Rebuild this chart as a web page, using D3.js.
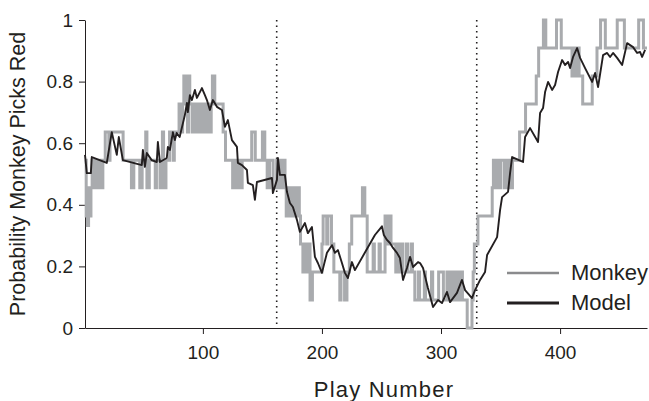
<!DOCTYPE html>
<html>
<head>
<meta charset="utf-8">
<script src="https://cdn.jsdelivr.net/npm/d3@7"></script>
<style>
  body { margin: 0; background: #fff; }
  svg { display: block; font-family: "Liberation Sans", Arial, Helvetica, sans-serif; }
  .axis path, .axis line { stroke: #231f20; stroke-width: 1; }
  .axis text { fill: #231f20; font-size: 19px; }
</style>
</head>
<body>
<div id="chart"></div>
<script>
// monkey choice rate (running average), as [play, probability] change points
var monkeySteps = [
  [1,0.545],[2,0.364],[3,0.333],[4,0.455],[5,0.364],[6,0.455],[7,0.545],[8,0.455],[9,0.545],[10,0.455],
  [11,0.545],[12,0.455],[13,0.545],[15,0.455],[16,0.545],[18,0.636],[21,0.545],[22,0.636],[33,0.545],[40,0.455],
  [42,0.545],[47,0.455],[49,0.545],[52,0.636],[53,0.455],[55,0.545],[60,0.455],[61,0.545],[64,0.455],[66,0.636],
  [67,0.455],[69,0.545],[72,0.636],[75,0.545],[76,0.636],[80,0.727],[82,0.636],[83,0.727],[84,0.818],[85,0.727],
  [86,0.818],[87,0.636],[88,0.818],[89,0.727],[91,0.636],[92,0.727],[94,0.636],[95,0.727],[97,0.636],[98,0.727],
  [100,0.636],[101,0.727],[103,0.636],[104,0.727],[106,0.636],[107,0.727],[108,0.818],[110,0.727],[117,0.636],[119,0.545],
  [125,0.455],[126,0.545],[128,0.455],[129,0.545],[131,0.455],[133,0.545],[141,0.636],[144,0.545],[150,0.636],[152,0.545],
  [154,0.455],[156,0.545],[159,0.455],[162,0.545],[164,0.455],[165,0.545],[167,0.455],[168,0.545],[169,0.455],[170,0.364],
  [171,0.455],[173,0.364],[175,0.455],[177,0.364],[179,0.455],[181,0.364],[182,0.273],[184,0.182],[185,0.273],[187,0.182],
  [188,0.273],[190,0.091],[192,0.182],[200,0.273],[201,0.364],[204,0.273],[205,0.364],[208,0.273],[210,0.182],[215,0.091],
  [216,0.182],[219,0.091],[221,0.182],[223,0.273],[225,0.364],[234,0.455],[236,0.364],[238,0.182],[243,0.273],[244,0.182],
  [248,0.273],[249,0.182],[253,0.364],[255,0.273],[256,0.364],[258,0.273],[262,0.182],[263,0.273],[265,0.182],[267,0.273],
  [268,0.182],[271,0.273],[272,0.182],[275,0.273],[276,0.182],[278,0.091],[281,0.182],[282,0.091],[286,0.182],[287,0.091],
  [292,0.182],[293,0.091],[298,0.182],[302,0.091],[305,0.182],[306,0.091],[307,0.182],[309,0.091],[310,0.182],[312,0.091],
  [313,0.182],[315,0.091],[316,0.182],[318,0.091],[322,0],[326,0.091],[327,0.182],[328,0.273],[331,0.364],[343,0.455],
  [344,0.545],[345,0.455],[346,0.545],[347,0.455],[348,0.545],[349,0.455],[350,0.545],[353,0.455],[354,0.545],[356,0.455],
  [357,0.545],[359,0.455],[360,0.545],[366,0.636],[371,0.727],[380,0.818],[382,0.909],[386,1],[388,0.909],[397,1],
  [401,0.909],[410,0.818],[412,0.909],[413,0.818],[415,0.909],[416,0.818],[419,0.727],[427,0.818],[431,0.909],[434,1],
  [438,0.909],[448,1],[454,0.909],[466,1],[470,0.909],[473,0.909]
];

// model prediction, [play, probability]
var modelPoints = [
  [1,0.562],[2.5,0.503],[5.9,0.503],[6.7,0.555],[19.3,0.536],[23.5,0.636],[27.7,0.562],[29.4,0.62],[32.8,0.545],[48.7,0.529],
  [49.6,0.578],[51.3,0.523],[52.9,0.568],[57,0.545],[61.3,0.539],[62.2,0.604],[63.9,0.539],[69.7,0.552],[70.6,0.588],[72.3,0.578],
  [74.8,0.636],[76.5,0.61],[78,0.633],[80.5,0.62],[84.9,0.692],[86.6,0.731],[87.4,0.701],[89.1,0.756],[90.8,0.74],[93.3,0.773],
  [95,0.747],[97.5,0.766],[99.2,0.779],[101.7,0.756],[103.4,0.74],[105.9,0.708],[108.4,0.74],[111.8,0.718],[116,0.708],[118.5,0.653],
  [121,0.675],[124.4,0.61],[128.6,0.588],[129.4,0.536],[132.8,0.529],[137,0.513],[137.8,0.471],[142,0.464],[143.7,0.416],[145.4,0.474],
  [158,0.487],[158.8,0.438],[162.2,0.481],[163,0.552],[164.7,0.497],[168.9,0.497],[170.6,0.442],[173.1,0.406],[175.6,0.393],[179,0.351],
  [181.5,0.312],[185.7,0.341],[188.2,0.308],[191.6,0.328],[194.1,0.231],[196.6,0.211],[200,0.179],[204.2,0.244],[208.4,0.269],[210.9,0.244],
  [213.4,0.253],[216.8,0.211],[219.3,0.179],[221.8,0.162],[225.2,0.214],[227.7,0.188],[244.5,0.302],[250.4,0.33],[252,0.302],[254.6,0.286],
  [257.1,0.276],[259.7,0.26],[263,0.244],[265.5,0.227],[268.1,0.156],[271.4,0.195],[274,0.231],[276.5,0.198],[280.7,0.214],[282.4,0.211],
  [284.9,0.195],[289,0.13],[293.3,0.068],[297.5,0.091],[300.8,0.081],[305,0.117],[307.6,0.084],[313.4,0.114],[317.6,0.156],[320.2,0.123],
  [326,0.097],[328.6,0.123],[332.8,0.156],[337,0.182],[338.7,0.237],[347.1,0.295],[349.6,0.383],[351.3,0.425],[356.3,0.442],[358,0.503],
  [359.7,0.555],[368.9,0.539],[370.6,0.62],[374.8,0.649],[381.5,0.604],[383.2,0.698],[385.7,0.714],[387.4,0.766],[389.9,0.799],[393.3,0.773],
  [395.8,0.789],[398.3,0.831],[401.7,0.87],[404.2,0.854],[406.7,0.864],[408.4,0.844],[410.9,0.88],[414.3,0.909],[416.8,0.877],[421,0.844],
  [426.9,0.799],[429.4,0.828],[431.9,0.782],[436.1,0.886],[439.5,0.893],[442,0.88],[444.5,0.893],[447.9,0.877],[452.1,0.854],[456.3,0.925],
  [461.3,0.912],[464.7,0.893],[467.2,0.896],[468.9,0.88],[471.4,0.903]
];

var blockStarts = [162, 330];          // dotted lines
var xTicks = [100, 200, 300, 400];
var yTicks = [0, 0.2, 0.4, 0.6, 0.8, 1];
var legendNames = ["Monkey", "Model"];

var margin = {top: 20, right: 2, bottom: 73, left: 85},
    width = 649 - margin.left - margin.right,
    height = 401 - margin.top - margin.bottom;

var svg = d3.select("#chart").append("svg")
    .attr("width", 649)
    .attr("height", 401)
  .append("g")
    .attr("transform", "translate(" + margin.left + "," + margin.top + ")");

var x = d3.scaleLinear().domain([1, 473]).range([0, width]);
var y = d3.scaleLinear().domain([0, 1]).range([height, 0]);

// axes
svg.append("g")
  .attr("class", "axis")
  .attr("transform", "translate(0," + height + ")")
  .call(d3.axisBottom(x).tickValues(xTicks).tickSize(6).tickSizeOuter(0).tickPadding(11.5).tickFormat(d3.format("d")));

svg.append("g")
  .attr("class", "axis")
  .call(d3.axisLeft(y).tickValues(yTicks).tickSize(6).tickSizeOuter(0).tickPadding(6)
    .tickFormat(function(d) { return d === 0 || d === 1 ? d : d3.format(".1f")(d); }));

// block boundaries
svg.selectAll(".block")
  .data(blockStarts)
  .enter().append("line")
    .attr("x1", function(d) { return x(d); })
    .attr("x2", function(d) { return x(d); })
    .attr("y1", y(1))
    .attr("y2", y(0))
    .attr("stroke", "#231f20")
    .attr("stroke-width", 1.6)
    .attr("stroke-dasharray", "1.6,3.9");

// monkey
svg.append("path")
  .datum(monkeySteps)
  .attr("fill", "none")
  .attr("stroke", "#a9abae")
  .attr("stroke-width", 3)
  .attr("d", d3.line()
    .curve(d3.curveStepAfter)
    .x(function(d) { return x(d[0]); })
    .y(function(d) { return y(d[1]); }));

// model
svg.append("path")
  .datum(modelPoints)
  .attr("fill", "none")
  .attr("stroke", "#231f20")
  .attr("stroke-width", 1.9)
  .attr("stroke-linejoin", "round")
  .attr("d", d3.line()
    .x(function(d) { return x(d[0]); })
    .y(function(d) { return y(d[1]); }));

// axis titles
svg.append("text")
  .attr("x", 299)
  .attr("y", 377)
  .attr("text-anchor", "middle")
  .attr("fill", "#231f20")
  .style("font-size", "22px")
  .style("letter-spacing", "1.2px")
  .text("Play Number");

svg.append("text")
  .attr("transform", "translate(-60," + (height / 2) + ") rotate(-90)")
  .attr("text-anchor", "middle")
  .attr("fill", "#231f20")
  .style("font-size", "21.5px")
  .text("Probability Monkey Picks Red");

// legend
var legend = svg.selectAll(".legend")
  .data(legendNames)
  .enter().append("g")
    .attr("transform", function(d, i) { return "translate(422," + (253 + i * 30) + ")"; });

legend.append("line")
  .attr("x1", 0).attr("x2", 52)
  .attr("stroke", function(d, i) { return i === 0 ? "#8a8b8d" : "#231f20"; })
  .attr("stroke-width", function(d, i) { return i === 0 ? 2.5 : 3; });

legend.append("text")
  .attr("x", 64)
  .attr("y", 7)
  .attr("fill", "#231f20")
  .style("font-size", "22px")
  .text(function(d) { return d; });
</script>
</body>
</html>
